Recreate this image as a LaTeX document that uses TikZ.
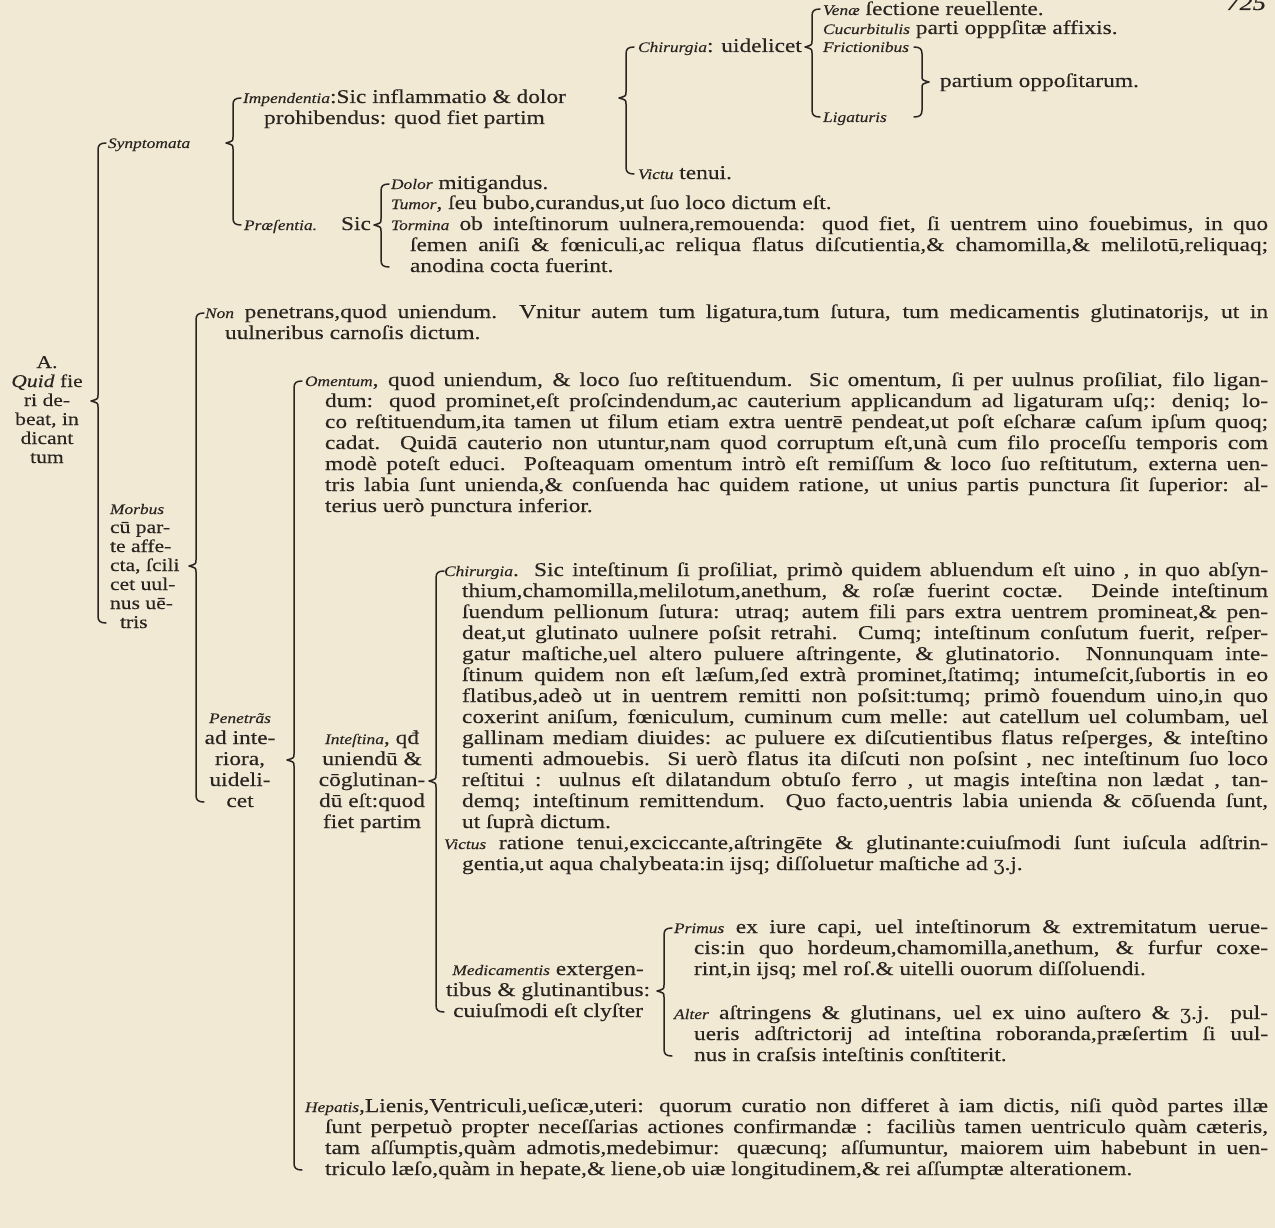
\documentclass[tikz,border=0pt]{standalone}
\usepackage{fontspec}
\setmainfont{Liberation Serif}[FakeStretch=1.2,FakeBold=0.3]
\newfontfamily\symfont{DejaVu Serif}
\definecolor{paper}{HTML}{F2E9D5}
\definecolor{ink}{HTML}{2A2520}
\newcommand\lab[1]{{\itshape\fontsize{14.5}{21}\selectfont #1}}
\newcommand\JL[2]{\makebox[#1pt][s]{#2}}
\newcommand\drachm{{\symfont ʒ}}
% left brace: name, x, top, bottom, tip
\newcommand\Lbr[5]{%
  \coordinate (#1-t) at ({#2+8},{#3});
  \coordinate (#1-b) at ({#2+8},{#4});
  \coordinate (#1-m) at ({#2-7},{#5});
  \draw[brc] (#1-t) .. controls ({#2+2},{#3}) and ({#2},{#3+2}) .. ({#2},{#3+7})
    -- ({#2},{#5-6}) .. controls ({#2},{#5-2}) .. (#1-m)
    .. controls ({#2},{#5+2}) .. ({#2},{#5+6})
    -- ({#2},{#4-7}) .. controls ({#2},{#4-2}) and ({#2+2},{#4}) .. (#1-b);}
% right brace
\newcommand\Rbr[5]{%
  \coordinate (#1-t) at ({#2-8},{#3});
  \coordinate (#1-b) at ({#2-8},{#4});
  \coordinate (#1-m) at ({#2+7},{#5});
  \draw[brc] (#1-t) .. controls ({#2-2},{#3}) and ({#2},{#3+2}) .. ({#2},{#3+7})
    -- ({#2},{#5-6}) .. controls ({#2},{#5-2}) .. (#1-m)
    .. controls ({#2},{#5+2}) .. ({#2},{#5+6})
    -- ({#2},{#4-7}) .. controls ({#2},{#4-2}) and ({#2-2},{#4}) .. (#1-b);}
\begin{document}
\begin{tikzpicture}[x=1pt,y=-1pt,
  txt/.style={inner sep=0pt,outer sep=0pt,text=ink,font=\fontsize{19.5}{21}\selectfont,align=left,anchor=base west},
  blk/.style={txt,anchor=north west},
  ctr/.style={txt,align=center,anchor=north},
  narrow/.style={font=\fontsize{18}{19}\selectfont},
  brc/.style={draw=ink,line width=1.5pt,line join=round,line cap=round}]
\fill[paper] (0,0) rectangle (1275,1228);
\useasboundingbox (0,0) rectangle (1275,1228);

% page number (cut at top)
\node[txt,anchor=base east,font=\fontsize{22}{22}\selectfont\itshape] (pg) at (1266,10) {725};

% ---------- top part ----------
\node[txt] (venae) at (823,15) {\lab{Venæ} ſectione reuellente.};
\node[txt] (cucurb) at (823,34) {\lab{Cucurbitulis} parti opppſitæ affixis.};
\node[txt] (frict) at (823,52) {\lab{Frictionibus}};
\node[txt] (ligat) at (823,122) {\lab{Ligaturis}};
\node[txt] (partium) at (940,87) {partium oppoſitarum.};
\Rbr{b4}{922}{47}{117}{82}

\node[txt] (chir0) at (638,52) {\lab{Chirurgia}: uidelicet};
\Lbr{b3}{812}{9}{117}{47}
\node[txt] (victu) at (638,179) {\lab{Victu} tenui.};

\node[blk,align=center] (impend) at (243,{103-14.7}) {\strut\lab{Impendentia}:Sic inflammatio \& dolor\\prohibendus: quod fiet partim};
\Lbr{b2}{626}{47}{174}{98}

\node[txt] (sympt) at (108,148) {\lab{Synptomata}};
\Lbr{b1}{233}{98}{225}{143}

\node[txt] (praes) at (244,230) {\lab{Præſentia.}\hspace{24pt}Sic};
\node[txt] (dolor) at (391,189) {\lab{Dolor} mitigandus.};
\node[txt] (tumor) at (391,209) {\lab{Tumor}, ſeu bubo,curandus,ut ſuo loco dictum eſt.};
\node[txt] (torm1) at (391,230) {\JL{877}{\lab{Tormina} ob inteſtinorum uulnera,remouenda: quod fiet, ſi uentrem uino fouebimus, in quo}};
\node[blk] (torm2) at (410,{251-14.7}) {\strut\JL{858}{ſemen aniſi \& fœniculi,ac reliqua flatus diſcutientia,\& chamomilla,\& melilotū,reliquaq;}\\anodina cocta fuerint.};
\Lbr{b5}{381}{184}{267}{225}

% ---------- root ----------
\node[ctr,narrow] (root) at (47,{368-13.3}) {\strut A.\\\textit{Quid} fie\\ri de-\\beat, in\\dicant\\tum};
\Lbr{b0}{98}{143}{623}{401}

\node[blk,narrow] (morbus) at (110,{514-13.3}) {\strut\lab{Morbus}\\cū par-\\te affe-\\cta, ſcili\\cet uul-\\nus uē-\\\hspace*{10pt}tris};
\Lbr{b6}{196}{313}{802}{566}

\node[txt] (non1) at (205,318) {\JL{1063}{\lab{Non} penetrans,quod uniendum. Vnitur autem tum ligatura,tum ſutura, tum medicamentis glutinatorijs, ut in}};
\node[txt] (non2) at (225,339) {uulneribus carnoſis dictum.};

\node[ctr] (penet) at (240,{723-14.7}) {\strut\lab{Penetrãs}\\ad inte-\\riora,\\uideli-\\cet};
\Lbr{b7}{294}{381}{1170}{760}

% Omentum
\node[txt] (oment1) at (305,386) {\JL{963}{\lab{Omentum}, quod uniendum, \& loco ſuo reſtituendum. Sic omentum, ſi per uulnus proſiliat, filo ligan-}};
\node[blk] (oment2) at (325,{407-14.7}) {\strut%
\JL{943}{dum: quod prominet,eſt proſcindendum,ac cauterium applicandum ad ligaturam uſq;: deniq; lo-}\\
\JL{943}{co reſtituendum,ita tamen ut filum etiam extra uentrē pendeat,ut poſt eſcharæ caſum ipſum quoq;}\\
\JL{943}{cadat. Quidā cauterio non utuntur,nam quod corruptum eſt,unà cum filo proceſſu temporis com}\\
\JL{943}{modè poteſt educi. Poſteaquam omentum intrò eſt remiſſum \& loco ſuo reſtitutum, externa uen-}\\
\JL{943}{tris labia ſunt unienda,\& conſuenda hac quidem ratione, ut unius partis punctura ſit ſuperior: al-}\\
terius uerò punctura inferior.};

% Intestina
\node[ctr] (intest) at (372,{744-14.7}) {\strut\lab{Inteſtina}, qđ\\uniendū \&\\cōglutinan-\\dū eſt:quod\\fiet partim};
\Lbr{b8}{436}{571}{1012}{781}

\node[txt] (chir1) at (444,576) {\JL{824}{\lab{Chirurgia}. Sic inteſtinum ſi proſiliat, primò quidem abluendum eſt uino , in quo abſyn-}};
\node[blk] (chir2) at (462,{597-14.7}) {\strut%
\JL{806}{thium,chamomilla,melilotum,anethum, \& roſæ fuerint coctæ. Deinde inteſtinum}\\
\JL{806}{ſuendum pellionum ſutura: utraq; autem fili pars extra uentrem promineat,\& pen-}\\
\JL{806}{deat,ut glutinato uulnere poſsit retrahi. Cumq; inteſtinum conſutum fuerit, reſper-}\\
\JL{806}{gatur maſtiche,uel altero puluere aſtringente, \& glutinatorio. Nonnunquam inte-}\\
\JL{806}{ſtinum quidem non eſt læſum,ſed extrà prominet,ſtatimq; intumeſcit,ſubortis in eo}\\
\JL{806}{flatibus,adeò ut in uentrem remitti non poſsit:tumq; primò fouendum uino,in quo}\\
\JL{806}{coxerint aniſum, fœniculum, cuminum cum melle: aut catellum uel columbam, uel}\\
\JL{806}{gallinam mediam diuides: ac puluere ex diſcutientibus flatus reſperges, \& inteſtino}\\
\JL{806}{tumenti admouebis. Si uerò flatus ita diſcuti non poſsint , nec inteſtinum ſuo loco}\\
\JL{806}{reſtitui : uulnus eſt dilatandum obtuſo ferro , ut magis inteſtina non lædat , tan-}\\
\JL{806}{demq; inteſtinum remittendum. Quo facto,uentris labia unienda \& cōſuenda ſunt,}\\
ut ſuprà dictum.};

\node[txt] (victus1) at (444,849) {\JL{824}{\lab{Victus} ratione tenui,exciccante,aſtringēte \& glutinante:cuiuſmodi ſunt iuſcula adſtrin-}};
\node[txt] (victus2) at (462,870) {gentia,ut aqua chalybeata:in ijsq; diſſoluetur maſtiche ad \drachm.j.};

% Medicamentis
\node[blk,align=center] (medic) at (446,{975-14.7}) {\strut\lab{Medicamentis} extergen-\\tibus \& glutinantibus:\\cuiuſmodi eſt clyſter};
\Lbr{b9}{664}{928}{1056}{991}

\node[txt] (prim1) at (674,933) {\JL{594}{\lab{Primus} ex iure capi, uel inteſtinorum \& extremitatum uerue-}};
\node[blk] (prim2) at (694,{954-14.7}) {\strut\JL{574}{cis:in quo hordeum,chamomilla,anethum, \& furfur coxe-}\\rint,in ijsq; mel roſ.\& uitelli ouorum diſſoluendi.};

\node[txt] (alt1) at (674,1019) {\JL{594}{\lab{Alter} aſtringens \& glutinans, uel ex uino auſtero \& \drachm.j. pul-}};
\node[blk] (alt2) at (694,{1040-14.7}) {\strut\JL{574}{ueris adſtrictorij ad inteſtina roboranda,præſertim ſi uul-}\\nus in craſsis inteſtinis conſtiterit.};

% Hepatis
\node[txt] (hep1) at (305,1112) {\JL{963}{\lab{Hepatis},Lienis,Ventriculi,ueſicæ,uteri: quorum curatio non differet à iam dictis, niſi quòd partes illæ}};
\node[blk] (hep2) at (325,{1133-14.7}) {\strut%
\JL{943}{ſunt perpetuò propter neceſſarias actiones confirmandæ : faciliùs tamen uentriculo quàm cæteris,}\\
\JL{943}{tam aſſumptis,quàm admotis,medebimur: quæcunq; aſſumuntur, maiorem uim habebunt in uen-}\\
triculo læſo,quàm in hepate,\& liene,ob uiæ longitudinem,\& rei aſſumptæ alterationem.};
\end{tikzpicture}
\end{document}
